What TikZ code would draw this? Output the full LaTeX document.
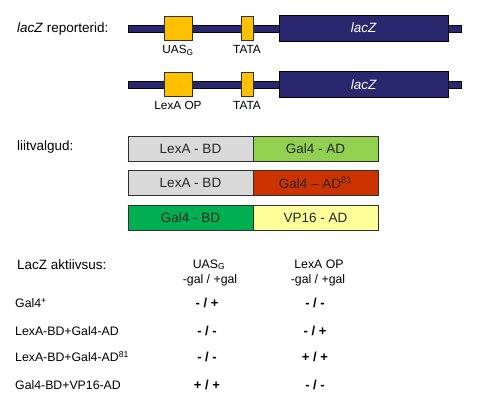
\documentclass[tikz,border=0pt]{standalone}
\usepackage{fontspec}
\setmainfont{Liberation Sans}
\definecolor{navy}{HTML}{29286F}
\definecolor{gold}{HTML}{FFC000}
\definecolor{lgray}{HTML}{D9D9D9}
\definecolor{lgreen}{HTML}{92D050}
\definecolor{rust}{HTML}{CC3300}
\definecolor{dgreen}{HTML}{00B050}
\definecolor{lyellow}{HTML}{FFFF99}
\definecolor{edge}{HTML}{303030}
\tikzset{
  bb/.style={draw=black, fill=navy, line width=0.7pt, minimum width=333pt, minimum height=7pt, inner sep=0pt},
  elem/.style={draw=edge, fill=gold, line width=0.7pt, minimum height=24pt, inner sep=0pt},
  gene/.style={draw=black, fill=navy, line width=0.7pt, minimum width=169pt, minimum height=26pt, inner sep=0pt, text=white, font=\fontsize{13.5}{16}\selectfont\itshape},
  lbl/.style={font=\fontsize{11.8}{14}\selectfont, inner sep=0pt, anchor=base},
  head/.style={font=\fontsize{13.5}{16}\selectfont, inner sep=0pt, anchor=base west},
  half/.style={draw=edge, line width=0.8pt, minimum width=125pt, minimum height=25pt, inner sep=0pt, font=\fontsize{13.5}{16}\selectfont, text=black!85},
  tab/.style={font=\fontsize{12.3}{14}\selectfont, inner sep=0pt, anchor=base},
  rowl/.style={font=\fontsize{12.3}{14}\selectfont, inner sep=0pt, anchor=base west},
  val/.style={font=\fontsize{13}{14}\selectfont\bfseries, inner sep=0pt, anchor=base},
}
\begin{document}
\begin{tikzpicture}[x=1pt,y=-1pt]
\useasboundingbox (0,0) rectangle (486,409);
% reporter 1
\node[head] (h1) at (17,33) {\textit{lacZ} reporterid:};
\node[bb] (bb1) at (294.5,28.5) {};
\node[elem, minimum width=28pt] (uas) at (178,28) {};
\node[elem, minimum width=12pt] (tata1) at (247,28) {};
\node[gene] (lacz1) at (363.5,28) {lacZ};
\node[lbl] (luas) at (178,54) {UAS\textsubscript{G}};
\node[lbl] (ltata1) at (247,54) {TATA};
% reporter 2
\node[bb] (bb2) at (294.5,84.5) {};
\node[elem, minimum width=28pt] (lexop) at (178,84.5) {};
\node[elem, minimum width=12pt] (tata2) at (247,84.5) {};
\node[gene] (lacz2) at (363.5,84.5) {lacZ};
\node[lbl] (llex) at (178,110) {LexA OP};
\node[lbl] (ltata2) at (247,110) {TATA};
% fusion proteins
\node[head] (h2) at (17,150) {liitvalgud:};
\node[half, fill=lgray] (b1l) at (190.5,148.5) {LexA - BD};
\node[half, fill=lgreen] (b1r) at (315.5,148.5) {Gal4 - AD};
\node[half, fill=lgray] (b2l) at (190.5,183) {LexA - BD};
\node[half, fill=rust] (b2r) at (315.5,183) {Gal4 -- AD\textsuperscript{81}};
\node[half, fill=dgreen] (b3l) at (190.5,217.5) {Gal4 - BD};
\node[half, fill=lyellow] (b3r) at (315.5,217.5) {VP16 - AD};
% table
\node[head] (h3) at (17,269) {LacZ aktiivsus:};
\node[tab] (c1a) at (209,268) {UAS\textsubscript{G}};
\node[tab] (c1b) at (210,283) {-gal / +gal};
\node[tab] (c2a) at (319,268) {LexA OP};
\node[tab] (c2b) at (318,283) {-gal / +gal};
\node[rowl] (r1) at (15,307.5) {Gal4\textsuperscript{+}};
\node[rowl] (r2) at (15,335.5) {LexA-BD+Gal4-AD};
\node[rowl] (r3) at (15,361.5) {LexA-BD+Gal4-AD\textsuperscript{81}};
\node[rowl] (r4) at (15,389.5) {Gal4-BD+VP16-AD};
\node[val] (v11) at (207,307.5) {- / +};
\node[val] (v12) at (315,307.5) {- / -};
\node[val] (v21) at (207,335.5) {- / -};
\node[val] (v22) at (315,335.5) {- / +};
\node[val] (v31) at (207,361.5) {- / -};
\node[val] (v32) at (315,361.5) {+ / +};
\node[val] (v41) at (207,389.5) {+ / +};
\node[val] (v42) at (315,389.5) {- / -};
\end{tikzpicture}
\end{document}
